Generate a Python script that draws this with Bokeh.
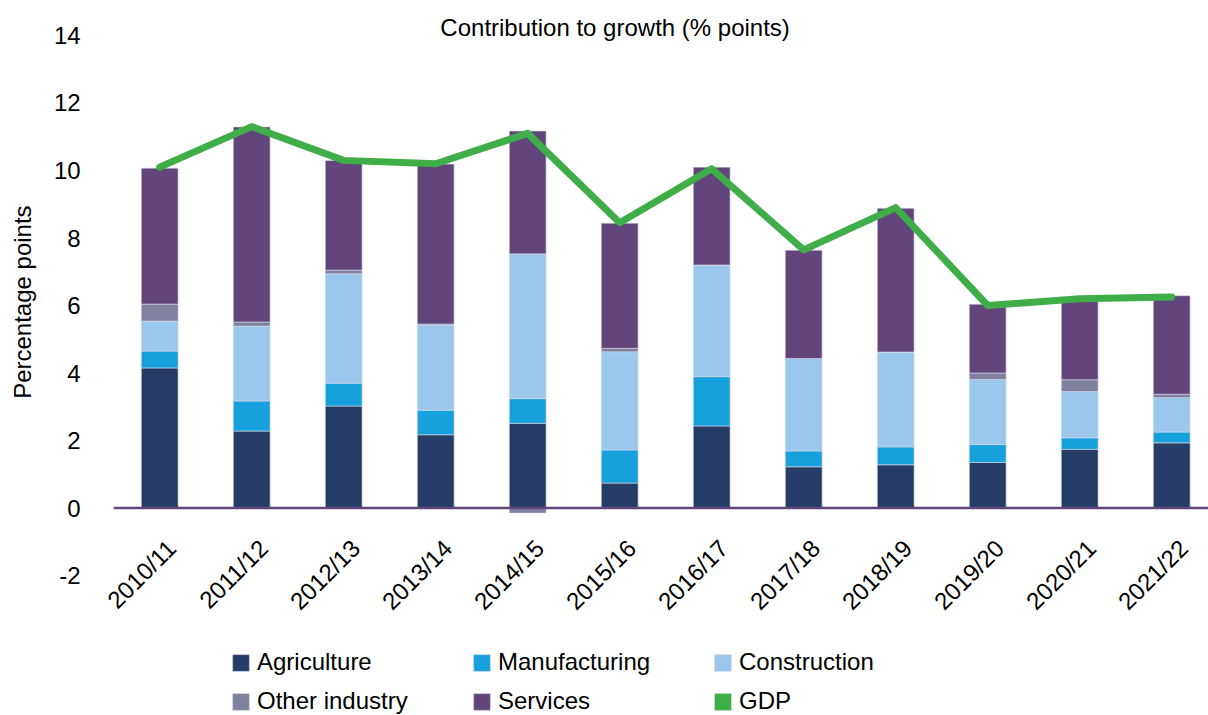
import math
from bokeh.plotting import figure
from bokeh.models import (ColumnDataSource, Range1d, FixedTicker, LabelSet,
                          Label, Legend, LegendItem)
from bokeh.core.properties import value
from bokeh.embed import file_html
from bokeh.resources import INLINE

# ---------------- data ----------------
years = ["2010/11", "2011/12", "2012/13", "2013/14", "2014/15", "2015/16",
         "2016/17", "2017/18", "2018/19", "2019/20", "2020/21", "2021/22"]
agriculture = [4.15, 2.28, 3.02, 2.17, 2.51, 0.74, 2.43, 1.22, 1.28, 1.35, 1.74, 1.93]
manufacturing = [0.50, 0.89, 0.68, 0.73, 0.73, 0.98, 1.46, 0.47, 0.53, 0.53, 0.34, 0.32]
construction = [0.89, 2.22, 3.24, 2.52, 4.29, 2.91, 3.31, 2.74, 2.81, 1.93, 1.37, 1.02]
other_industry = [0.50, 0.12, 0.11, 0.03, -0.15, 0.10, 0.0, 0.0, 0.0, 0.19, 0.35, 0.10]
services = [4.03, 5.78, 3.25, 4.74, 3.64, 3.71, 2.90, 3.21, 4.26, 2.04, 2.32, 2.92]
gdp = [10.1, 11.3, 10.3, 10.2, 11.1, 8.45, 10.05, 7.65, 8.9, 6.0, 6.2, 6.25]
y_ticks = [-2, 0, 2, 4, 6, 8, 10, 12, 14]
y_tick_labels = ["-2", "0", "2", "4", "6", "8", "10", "12", "14"]

series_names = ["Agriculture", "Manufacturing", "Construction", "Other industry", "Services"]
series_values = [agriculture, manufacturing, construction, other_industry, services]
series_colors = ["#243c66", "#16a0dc", "#9cc7ec", "#7f7f9f", "#62467b"]
gdp_color = "#3fae49"
axis_color = "#62467b"

FONT = "Liberation Sans"
n = len(years)
idx = list(range(n))

# the plot frame fills the whole canvas; ranges chosen so that -2..14 sits
# where the reference draws it and the category slots are 92 px wide
X_START, X_END = -1.7304, 11.40
Y_START, Y_END = -6.148, 15.037

p = figure(width=1208, height=715, output_backend="svg", toolbar_location=None,
           x_range=Range1d(X_START, X_END), y_range=Range1d(Y_START, Y_END),
           min_border=0)
p.outline_line_color = None
p.xgrid.grid_line_color = None
p.ygrid.grid_line_color = None
p.xaxis.visible = False

ya = p.yaxis[0]
ya.fixed_location = -0.5
ya.ticker = FixedTicker(ticks=y_ticks)
ya.major_label_overrides = {t: s for t, s in zip(y_ticks, y_tick_labels)}
ya.axis_line_color = None
ya.major_tick_line_color = None
ya.minor_tick_line_color = None
ya.major_tick_out = 0
ya.major_tick_in = 0
ya.major_label_standoff = 33
ya.major_label_text_font = FONT
ya.major_label_text_font_size = "24px"
ya.major_label_text_color = "#000000"

# stacked bars (positive and negative stacks separately)
pos_base = [0.0] * n
neg_base = [0.0] * n
renderers = {}
for name, vals, col in zip(series_names, series_values, series_colors):
    bottoms, tops = [], []
    for i, v in enumerate(vals):
        if v >= 0:
            b = pos_base[i]
            t = b + v
            pos_base[i] = t
        else:
            b = neg_base[i]
            t = b + v
            neg_base[i] = t
        bottoms.append(b)
        tops.append(t)
    src = ColumnDataSource(dict(x=idx, bottom=bottoms, top=tops))
    r = p.vbar(x="x", bottom="bottom", top="top", width=0.4, source=src,
               fill_color=col, line_color="#d8d8e8", line_width=0.6)
    renderers[name] = r

# category (zero) axis line
p.segment(x0=[idx[0] - 0.5], y0=[0], x1=[X_END], y1=[0], line_color=axis_color, line_width=2.5)

gdp_line = p.line(x=idx, y=gdp, line_color=gdp_color, line_width=7,
                  line_join="round", line_cap="round")
gdp_legend_glyph = p.vbar(x=idx, top=gdp, width=0.4, fill_color=gdp_color,
                          line_color=None, visible=False)

# category labels
lab_src = ColumnDataSource(dict(x=idx, y=[0] * n, text=years))
p.add_layout(LabelSet(x="x", y="y", text="text", source=lab_src, angle=45, angle_units="deg",
                      text_align="right", text_baseline="middle", x_offset=12, y_offset=-36,
                      text_font=value(FONT), text_font_size=value("24px"),
                      text_color=value("#000000")))

# title
p.add_layout(Label(x=4.95, y=14, y_offset=8, text="Contribution to growth (% points)",
                   text_align="center", text_baseline="middle",
                   text_font=FONT, text_font_size="24px", text_color="#000000"))

# y axis title
p.add_layout(Label(x=-1.49, y=6.1, text="Percentage points", angle=90, angle_units="deg",
                   text_align="center", text_baseline="middle",
                   text_font=FONT, text_font_size="24px", text_color="#000000"))

items = [LegendItem(label=nm, renderers=[renderers[nm]]) for nm in series_names]
items.append(LegendItem(label="GDP", renderers=[gdp_legend_glyph]))
legend = Legend(items=items, orientation="horizontal", ncols=3, nrows=2,
                location=(230, 0), glyph_width=21, glyph_height=21, label_standoff=6,
                label_width=203, label_height=21, spacing=11, padding=0, margin=0,
                border_line_color=None, background_fill_alpha=0,
                label_text_font=FONT, label_text_font_size="24px", label_text_color="#000000")
p.add_layout(legend)

open("out.html", "w").write(file_html(p, INLINE))
